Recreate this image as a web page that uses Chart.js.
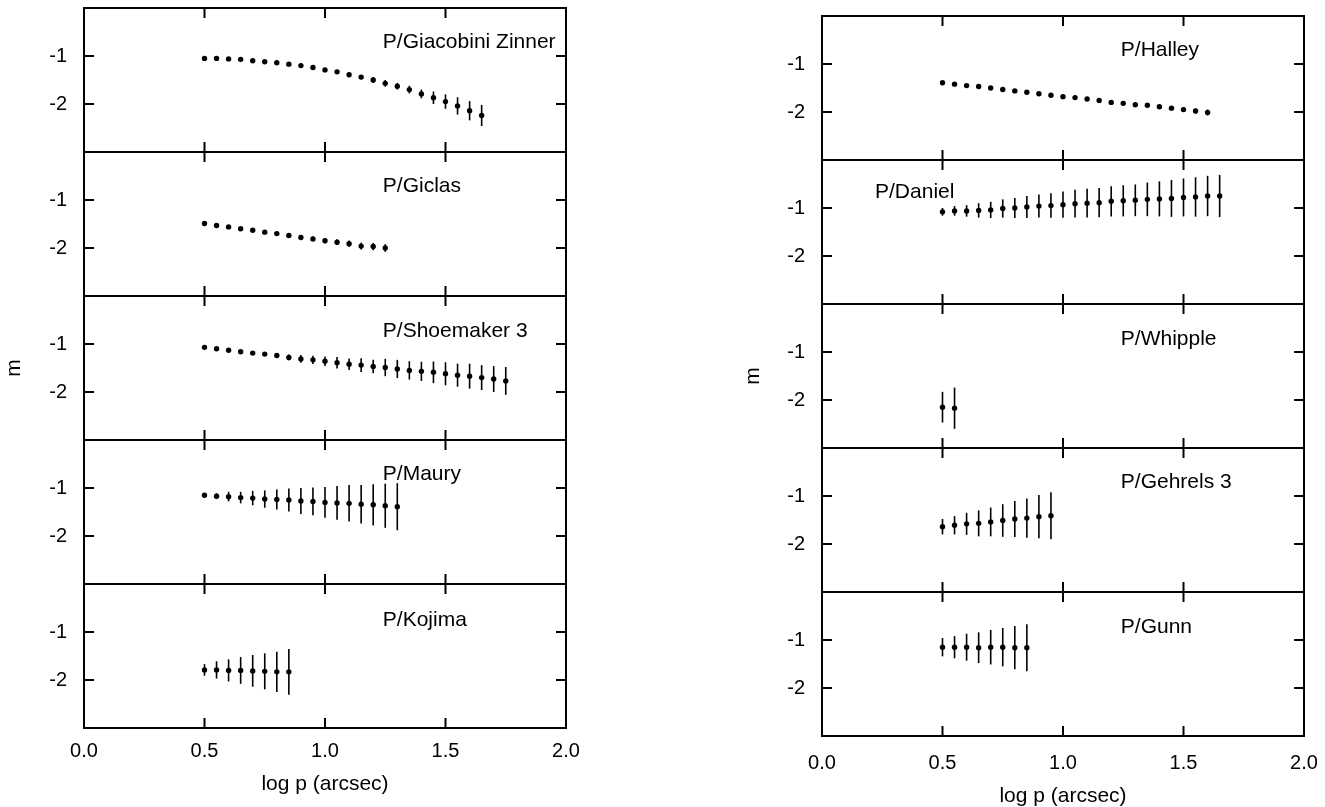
<!DOCTYPE html>
<html><head><meta charset="utf-8">
<script src="https://cdn.jsdelivr.net/npm/chart.js@4.4.1/dist/chart.umd.min.js"></script>
<style>
html,body{margin:0;padding:0;background:#fff;width:1325px;height:807px;overflow:hidden;}
canvas{position:absolute;top:0;}
</style></head><body>
<script>
// ---------- tick labels / titles ----------
const xTickLabels = ['0.0', '0.5', '1.0', '1.5', '2.0'];
const yTickLabels = ['-1', '-2'];
const xTitle = 'log p (arcsec)';
const yTitle = 'm';

// ---------- data (x = log p, m, error half-length) ----------
const giacobiniX = [0.50,0.55,0.60,0.65,0.70,0.75,0.80,0.85,0.90,0.95,1.00,1.05,1.10,1.15,1.20,1.25,1.30,1.35,1.40,1.45,1.50,1.55,1.60,1.65];
const giacobiniM = [-1.05,-1.05,-1.06,-1.07,-1.10,-1.12,-1.14,-1.17,-1.20,-1.24,-1.29,-1.33,-1.39,-1.44,-1.50,-1.57,-1.63,-1.70,-1.79,-1.87,-1.95,-2.04,-2.14,-2.24];
const giacobiniErr = [0.02,0.02,0.02,0.02,0.02,0.02,0.02,0.02,0.02,0.02,0.02,0.03,0.045,0.045,0.06,0.07,0.07,0.08,0.09,0.13,0.15,0.18,0.20,0.22];

const giclasX = [0.50,0.55,0.60,0.65,0.70,0.75,0.80,0.85,0.90,0.95,1.00,1.05,1.10,1.15,1.20,1.25];
const giclasM = [-1.49,-1.53,-1.56,-1.60,-1.63,-1.67,-1.70,-1.74,-1.78,-1.81,-1.85,-1.88,-1.91,-1.96,-1.97,-2.00];
const giclasErr = [0.02,0.02,0.02,0.02,0.02,0.03,0.03,0.04,0.04,0.05,0.05,0.06,0.065,0.07,0.075,0.08];

const shoemakerX = [0.50,0.55,0.60,0.65,0.70,0.75,0.80,0.85,0.90,0.95,1.00,1.05,1.10,1.15,1.20,1.25,1.30,1.35,1.40,1.45,1.50,1.55,1.60,1.65,1.70,1.75];
const shoemakerM = [-1.07,-1.10,-1.13,-1.16,-1.19,-1.21,-1.24,-1.28,-1.31,-1.33,-1.36,-1.39,-1.42,-1.44,-1.47,-1.49,-1.52,-1.55,-1.57,-1.59,-1.62,-1.65,-1.67,-1.70,-1.73,-1.77];
const shoemakerErr = [0.02,0.02,0.02,0.02,0.03,0.04,0.05,0.06,0.08,0.085,0.10,0.12,0.12,0.145,0.14,0.18,0.19,0.19,0.20,0.225,0.24,0.24,0.26,0.26,0.27,0.29];

const mauryX = [0.50,0.55,0.60,0.65,0.70,0.75,0.80,0.85,0.90,0.95,1.00,1.05,1.10,1.15,1.20,1.25,1.30];
const mauryM = [-1.15,-1.17,-1.18,-1.20,-1.21,-1.23,-1.24,-1.25,-1.27,-1.28,-1.30,-1.31,-1.32,-1.34,-1.35,-1.37,-1.39];
const mauryErr = [0.02,0.06,0.10,0.12,0.15,0.18,0.21,0.24,0.27,0.29,0.32,0.35,0.38,0.40,0.43,0.46,0.49];

const kojimaX = [0.50,0.55,0.60,0.65,0.70,0.75,0.80,0.85];
const kojimaM = [-1.79,-1.79,-1.80,-1.80,-1.81,-1.82,-1.83,-1.83];
const kojimaErr = [0.12,0.18,0.23,0.28,0.33,0.375,0.42,0.475];

const halleyX = [0.50,0.55,0.60,0.65,0.70,0.75,0.80,0.85,0.90,0.95,1.00,1.05,1.10,1.15,1.20,1.25,1.30,1.35,1.40,1.45,1.50,1.55,1.60];
const halleyM = [-1.39,-1.42,-1.45,-1.47,-1.50,-1.53,-1.56,-1.59,-1.62,-1.65,-1.68,-1.70,-1.73,-1.76,-1.80,-1.82,-1.85,-1.86,-1.89,-1.92,-1.95,-1.98,-2.01];
const halleyErr = [0.015,0.015,0.015,0.015,0.015,0.015,0.015,0.015,0.015,0.02,0.02,0.02,0.02,0.025,0.03,0.03,0.035,0.035,0.04,0.045,0.05,0.055,0.06];

const danielX = [0.50,0.55,0.60,0.65,0.70,0.75,0.80,0.85,0.90,0.95,1.00,1.05,1.10,1.15,1.20,1.25,1.30,1.35,1.40,1.45,1.50,1.55,1.60,1.65];
const danielM = [-1.08,-1.06,-1.06,-1.05,-1.04,-1.01,-1.00,-0.98,-0.96,-0.95,-0.93,-0.91,-0.90,-0.89,-0.86,-0.85,-0.84,-0.82,-0.81,-0.80,-0.78,-0.77,-0.75,-0.75];
const danielErr = [0.08,0.10,0.12,0.15,0.17,0.19,0.21,0.23,0.24,0.255,0.275,0.29,0.30,0.305,0.315,0.325,0.33,0.35,0.365,0.385,0.395,0.41,0.42,0.44];

const whippleX = [0.50,0.55];
const whippleM = [-2.15,-2.17];
const whippleErr = [0.32,0.43];

const gehrelsX = [0.50,0.55,0.60,0.65,0.70,0.75,0.80,0.85,0.90,0.95];
const gehrelsM = [-1.64,-1.61,-1.58,-1.57,-1.54,-1.51,-1.48,-1.46,-1.43,-1.41];
const gehrelsErr = [0.16,0.19,0.23,0.27,0.30,0.34,0.375,0.41,0.45,0.49];

const gunnX = [0.50,0.55,0.60,0.65,0.70,0.75,0.80,0.85];
const gunnM = [-1.15,-1.15,-1.15,-1.16,-1.15,-1.15,-1.16,-1.16];
const gunnErr = [0.19,0.23,0.28,0.32,0.36,0.40,0.45,0.49];

const leftNames = ['P/Giacobini Zinner', 'P/Giclas', 'P/Shoemaker 3', 'P/Maury', 'P/Kojima'];
const rightNames = ['P/Halley', 'P/Daniel', 'P/Whipple', 'P/Gehrels 3', 'P/Gunn'];

// ---------- layout (page pixels) ----------
const H = 807;
const FONT = '"Liberation Sans", Arial, Helvetica, sans-serif';
const columns = [
  { left: 0, width: 600, plotLeft: 84, plotRight: 566, rows: [8, 152, 296, 440, 584, 728],
    xTickPad: 3, xTitlePadBottom: 12, yTitlePadTop: 2,
    panels: [
      { name: leftNames[0], x: giacobiniX, m: giacobiniM, e: giacobiniErr, lx: 1.24, ly: -0.72 },
      { name: leftNames[1], x: giclasX, m: giclasM, e: giclasErr, lx: 1.24, ly: -0.72 },
      { name: leftNames[2], x: shoemakerX, m: shoemakerM, e: shoemakerErr, lx: 1.24, ly: -0.74 },
      { name: leftNames[3], x: mauryX, m: mauryM, e: mauryErr, lx: 1.24, ly: -0.72 },
      { name: leftNames[4], x: kojimaX, m: kojimaM, e: kojimaErr, lx: 1.24, ly: -0.76 }
    ] },
  { left: 740, width: 585, plotLeft: 822, plotRight: 1304, rows: [16, 160, 304, 448, 592, 736],
    xTickPad: 7, xTitlePadBottom: 0, yTitlePadTop: 1,
    panels: [
      { name: rightNames[0], x: halleyX, m: halleyM, e: halleyErr, lx: 1.24, ly: -0.72 },
      { name: rightNames[1], x: danielX, m: danielM, e: danielErr, lx: 0.22, ly: -0.67 },
      { name: rightNames[2], x: whippleX, m: whippleM, e: whippleErr, lx: 1.24, ly: -0.73 },
      { name: rightNames[3], x: gehrelsX, m: gehrelsM, e: gehrelsErr, lx: 1.24, ly: -0.71 },
      { name: rightNames[4], x: gunnX, m: gunnM, e: gunnErr, lx: 1.24, ly: -0.74 }
    ] }
];

// ---------- plugin: error bars, frame, inward ticks, panel label ----------
const decor = {
  id: 'decor',
  beforeDatasetsDraw(chart, args, opts) {
    const ctx = chart.ctx, ys = chart.scales.y;
    const meta = chart.getDatasetMeta(0);
    const data = chart.data.datasets[0].data;
    ctx.save();
    ctx.strokeStyle = '#000';
    ctx.lineWidth = 1.6;
    meta.data.forEach((pt, i) => {
      const d = data[i], e = opts.err[i];
      ctx.beginPath();
      ctx.moveTo(pt.x, ys.getPixelForValue(d.y + e));
      ctx.lineTo(pt.x, ys.getPixelForValue(d.y - e));
      ctx.stroke();
    });
    ctx.restore();
  },
  afterDraw(chart, args, opts) {
    const ctx = chart.ctx, a = chart.chartArea;
    const xs = chart.scales.x, ys = chart.scales.y;
    ctx.save();
    ctx.strokeStyle = '#000';
    ctx.lineWidth = 2;
    ctx.strokeRect(a.left, a.top, a.right - a.left, a.bottom - a.top);
    const T = 10;
    ctx.beginPath();
    [0.5, 1.0, 1.5].forEach(v => {
      const px = xs.getPixelForValue(v);
      ctx.moveTo(px, a.top); ctx.lineTo(px, a.top + T);
      ctx.moveTo(px, a.bottom); ctx.lineTo(px, a.bottom - T);
    });
    [-1, -2].forEach(v => {
      const py = ys.getPixelForValue(v);
      ctx.moveTo(a.left, py); ctx.lineTo(a.left + T, py);
      ctx.moveTo(a.right, py); ctx.lineTo(a.right - T, py);
    });
    ctx.stroke();
    ctx.fillStyle = '#000';
    ctx.font = '21px ' + FONT;
    ctx.textAlign = 'left';
    ctx.textBaseline = 'middle';
    ctx.fillText(opts.label, xs.getPixelForValue(opts.lx), ys.getPixelForValue(opts.ly));
    ctx.restore();
  }
};

columns.forEach(col => {
  col.panels.forEach((p, i) => {
    const isBottom = i === col.panels.length - 1;
    const cv = document.createElement('canvas');
    cv.width = col.width; cv.height = H;
    cv.style.left = col.left + 'px';
    cv.style.width = col.width + 'px'; cv.style.height = H + 'px';
    document.body.appendChild(cv);
    const pts = p.x.map((xv, k) => ({ x: xv, y: p.m[k] }));
    const xScale = {
      type: 'linear', min: 0, max: 2, display: isBottom,
      grid: { display: false }, border: { display: false },
      ticks: { stepSize: 0.5, autoSkip: false, maxRotation: 0, minRotation: 0, padding: col.xTickPad, color: '#000',
        font: { family: FONT, size: 20 },
        callback: v => xTickLabels[Math.round(v * 2)] },
      title: { display: true, text: xTitle, color: '#000', font: { family: FONT, size: 21, lineHeight: 1.0 }, padding: { top: 0, bottom: col.xTitlePadBottom } }
    };
    if (isBottom) {
      xScale.afterFit = s => { s.height = H - col.rows[5]; s.paddingLeft = 0; s.paddingRight = 0; };
    }
    new Chart(cv, {
      type: 'scatter',
      data: { datasets: [{ data: pts, pointRadius: 2.7, pointHoverRadius: 2.7, backgroundColor: '#000', borderWidth: 0, showLine: false }] },
      plugins: [decor],
      options: {
        responsive: false, animation: false, events: [],
        layout: { padding: { left: 0, right: col.left + col.width - col.plotRight, top: col.rows[i], bottom: isBottom ? 0 : H - col.rows[i + 1] } },
        plugins: {
          legend: { display: false }, tooltip: { enabled: false },
          decor: { err: p.e, label: p.name, lx: p.lx, ly: p.ly }
        },
        scales: {
          x: xScale,
          y: {
            type: 'linear', min: -3, max: 0,
            grid: { display: false }, border: { display: false },
            ticks: { stepSize: 1, padding: 9, color: '#000', font: { family: FONT, size: 20 },
              callback: v => (v === -1 ? yTickLabels[0] : (v === -2 ? yTickLabels[1] : '')) },
            title: { display: i === 2, text: yTitle, color: '#000', font: { family: FONT, size: 21, lineHeight: 1.2 }, padding: { top: col.yTitlePadTop, bottom: 0 } },
            afterFit: s => { s.width = col.plotLeft - col.left; s.paddingTop = 0; s.paddingBottom = 0; }
          }
        }
      }
    });
  });
});
</script>
</body></html>
